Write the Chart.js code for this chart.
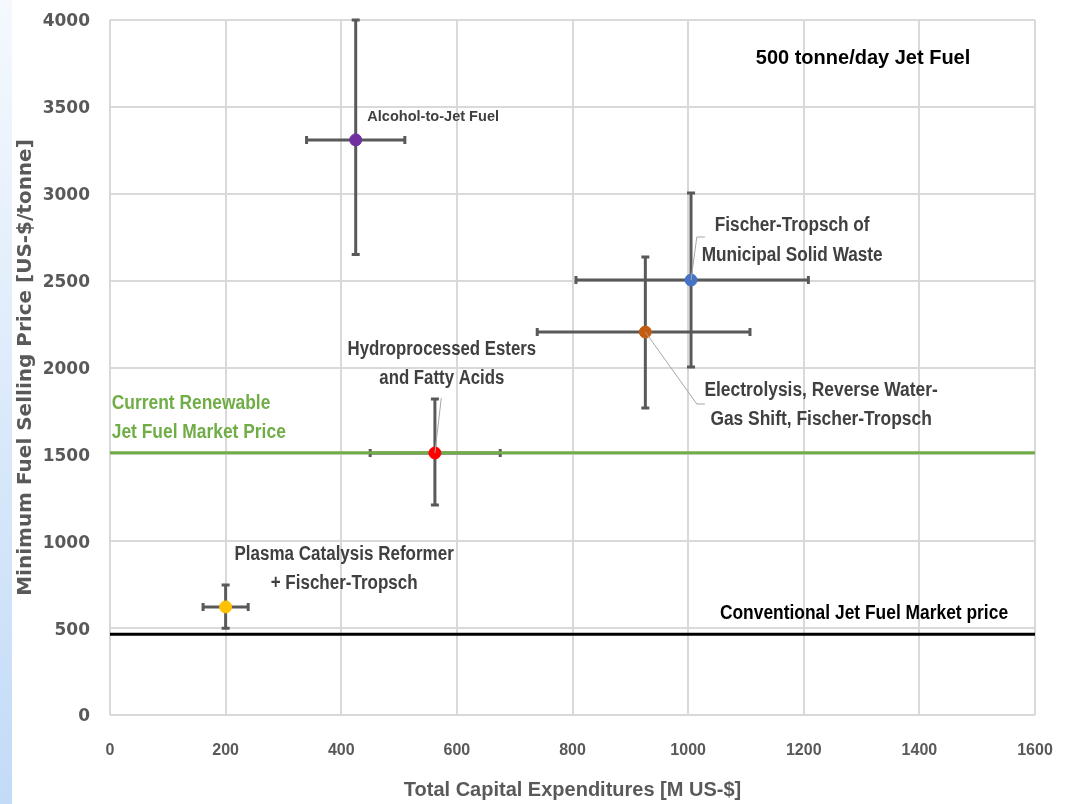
<!DOCTYPE html>
<html><head><meta charset="utf-8">
<script src="https://cdn.jsdelivr.net/npm/chart.js@4"></script>
<style>
html,body{margin:0;padding:0;background:#fff;overflow:hidden;}
#strip{position:absolute;left:0;top:0;width:12px;height:804px;background:linear-gradient(#f5f9fe,#c2dbf7);}
#wrap{position:absolute;left:0;top:0;width:1066px;height:804px;}
</style></head><body>
<div id="strip"></div>
<div id="wrap"><canvas id="c" width="1066" height="804"></canvas></div>
<script>
// ---- data ----
const pathways = ["Alcohol-to-Jet Fuel", "Fischer-Tropsch of Municipal Solid Waste", "Electrolysis, Reverse Water-Gas Shift, Fischer-Tropsch", "Hydroprocessed Esters and Fatty Acids", "Plasma Catalysis Reformer + Fischer-Tropsch"];
const capex     = [425, 1005, 926, 562, 200];
const capexLow  = [340, 806, 739, 450, 161];
const capexHigh = [510, 1208, 1107, 675, 239];
const mfsp      = [3310, 2503, 2204, 1508, 622];
const mfspLow   = [2650, 2003, 1767, 1209, 500];
const mfspHigh  = [4000, 3004, 2636, 1819, 748];
const renewablePrice = 1510;
const conventionalPrice = 465;
const xTicks = [0, 200, 400, 600, 800, 1000, 1200, 1400, 1600];
const yTicks = [0, 500, 1000, 1500, 2000, 2500, 3000, 3500, 4000];
const pointColors = ["#7030a0", "#4472c4", "#c55a11", "#ff0000", "#ffc000"];

// ---- annotation layout (data coordinates) ----
const SANS = "'Liberation Sans',Arial,sans-serif";
const labels = [
  {lines: ["Alcohol-to-Jet Fuel"], x: 445, y: 3440, align: "left", size: 15, sx: 0.97, color: "#404040"},
  {lines: ["Fischer-Tropsch of", "Municipal Solid Waste"], x: 1180, y: 2815, align: "center", size: 20, sx: 0.86, color: "#404040"},
  {lines: ["Electrolysis, Reverse Water-", "Gas Shift, Fischer-Tropsch"], x: 1230, y: 1870, align: "center", size: 20, sx: 0.87, color: "#404040"},
  {lines: ["Hydroprocessed Esters", "and Fatty Acids"], x: 574, y: 2105, align: "center", size: 20, sx: 0.84, color: "#404040"},
  {lines: ["Plasma Catalysis Reformer", "+ Fischer-Tropsch"], x: 405, y: 925, align: "center", size: 20, sx: 0.85, color: "#404040"},
  {lines: ["Current Renewable", "Jet Fuel Market Price"], x: 3, y: 1795, align: "left", size: 20, sx: 0.87, color: "#70ad47"},
  {lines: ["Conventional Jet Fuel Market price"], x: 1055, y: 582, align: "left", size: 20, sx: 0.87, color: "#000000"},
  {lines: ["500 tonne/day Jet Fuel"], x: 1117, y: 3780, align: "left", size: 20, sx: 1, color: "#000000"}
];
const leaders = [
  {pts: [[1005, 2503], [1015, 2751], [1029, 2751]]},
  {pts: [[926, 2204], [1015, 1790], [1029, 1790]]},
  {pts: [[562, 1508], [573, 1824]]}
];

const errorBars = {
  id: "errorBars",
  beforeDatasetsDraw(chart) {
    const {ctx, scales: {x, y}} = chart;
    ctx.save();
    ctx.strokeStyle = "#595959";
    ctx.lineWidth = 3;
    const cap = 4;
    for (let i = 0; i < capex.length; i++) {
      const px = x.getPixelForValue(capex[i]), py = y.getPixelForValue(mfsp[i]);
      const x0 = x.getPixelForValue(capexLow[i]), x1 = x.getPixelForValue(capexHigh[i]);
      const y0 = y.getPixelForValue(mfspLow[i]), y1 = y.getPixelForValue(mfspHigh[i]);
      ctx.beginPath();
      ctx.moveTo(x0, py); ctx.lineTo(x1, py);
      ctx.moveTo(x0, py - cap); ctx.lineTo(x0, py + cap);
      ctx.moveTo(x1, py - cap); ctx.lineTo(x1, py + cap);
      ctx.moveTo(px, y0); ctx.lineTo(px, y1);
      ctx.moveTo(px - cap, y0); ctx.lineTo(px + cap, y0);
      ctx.moveTo(px - cap, y1); ctx.lineTo(px + cap, y1);
      ctx.stroke();
    }
    ctx.restore();
  }
};

const annotations = {
  id: "annotations",
  afterDatasetsDraw(chart) {
    const {ctx, scales: {x, y}} = chart;
    ctx.save();
    ctx.strokeStyle = "#a6a6a6";
    ctx.lineWidth = 1;
    for (const l of leaders) {
      ctx.beginPath();
      l.pts.forEach((p, k) => {
        const px = x.getPixelForValue(p[0]), py = y.getPixelForValue(p[1]);
        k ? ctx.lineTo(px, py) : ctx.moveTo(px, py);
      });
      ctx.stroke();
    }
    ctx.textBaseline = "middle";
    for (const lb of labels) {
      ctx.font = "bold " + lb.size + "px " + SANS;
      ctx.fillStyle = lb.color;
      ctx.textAlign = lb.align;
      const px = x.getPixelForValue(lb.x), py = y.getPixelForValue(lb.y);
      lb.lines.forEach((t, k) => {
        ctx.save();
        ctx.translate(px, py + k * 29.5);
        ctx.scale(lb.sx, 1);
        ctx.fillText(t, 0, 0);
        ctx.restore();
      });
    }
    ctx.restore();
  }
};

new Chart(document.getElementById("c"), {
  data: {
    datasets: [
      {type: "scatter", label: "Pathways", data: capex.map((v, i) => ({x: v, y: mfsp[i]})),
       pointBackgroundColor: pointColors, pointBorderColor: pointColors, pointRadius: 6, pointHoverRadius: 6, order: 0},
      {type: "line", label: "Renewable", data: [{x: 0, y: renewablePrice}, {x: 1600, y: renewablePrice}],
       borderColor: "#70ad47", borderWidth: 3, pointRadius: 0, order: 1},
      {type: "line", label: "Conventional", data: [{x: 0, y: conventionalPrice}, {x: 1600, y: conventionalPrice}],
       borderColor: "#000000", borderWidth: 3, pointRadius: 0, order: 1}
    ]
  },
  options: {
    responsive: false,
    animation: false,
    devicePixelRatio: 1,
    layout: {padding: {top: 20, right: 31, left: 0, bottom: 0}},
    plugins: {legend: {display: false}, tooltip: {enabled: false}},
    scales: {
      x: {
        type: "linear", min: 0, max: 1600,
        afterBuildTicks: s => { s.ticks = xTicks.map(v => ({value: v})); },
        afterFit: s => { s.height = 89; s.paddingLeft = 0; s.paddingRight = 0; },
        grid: {color: "#d9d9d9", lineWidth: 2, drawTicks: false},
        border: {display: false},
        ticks: {padding: 26, color: "#595959", callback: v => String(v),
                font: {family: SANS, size: 16, weight: "bold"}},
        title: {display: true, text: "Total Capital Expenditures [M US-$]", color: "#595959",
                font: {family: SANS, size: 20, weight: "bold"}, padding: {top: 0, bottom: 2}}
      },
      y: {
        type: "linear", min: 0, max: 4000,
        afterBuildTicks: s => { s.ticks = yTicks.map(v => ({value: v})); },
        afterFit: s => { s.width = 110; s.paddingTop = 0; s.paddingBottom = 0; },
        grid: {color: "#d9d9d9", lineWidth: 2, drawTicks: false},
        border: {display: false},
        ticks: {padding: 20, labelOffset: 2, color: "#595959", callback: v => String(v),
                font: {family: "'DejaVu Sans',sans-serif", size: 17, weight: "bold"}},
        title: {display: true, text: "Minimum Fuel Selling Price [US-$/tonne]", color: "#595959",
                font: {family: "'DejaVu Sans',sans-serif", size: 20, weight: "bold"}, padding: {top: 14, bottom: 0}}
      }
    }
  },
  plugins: [errorBars, annotations]
});
</script>
</body></html>
